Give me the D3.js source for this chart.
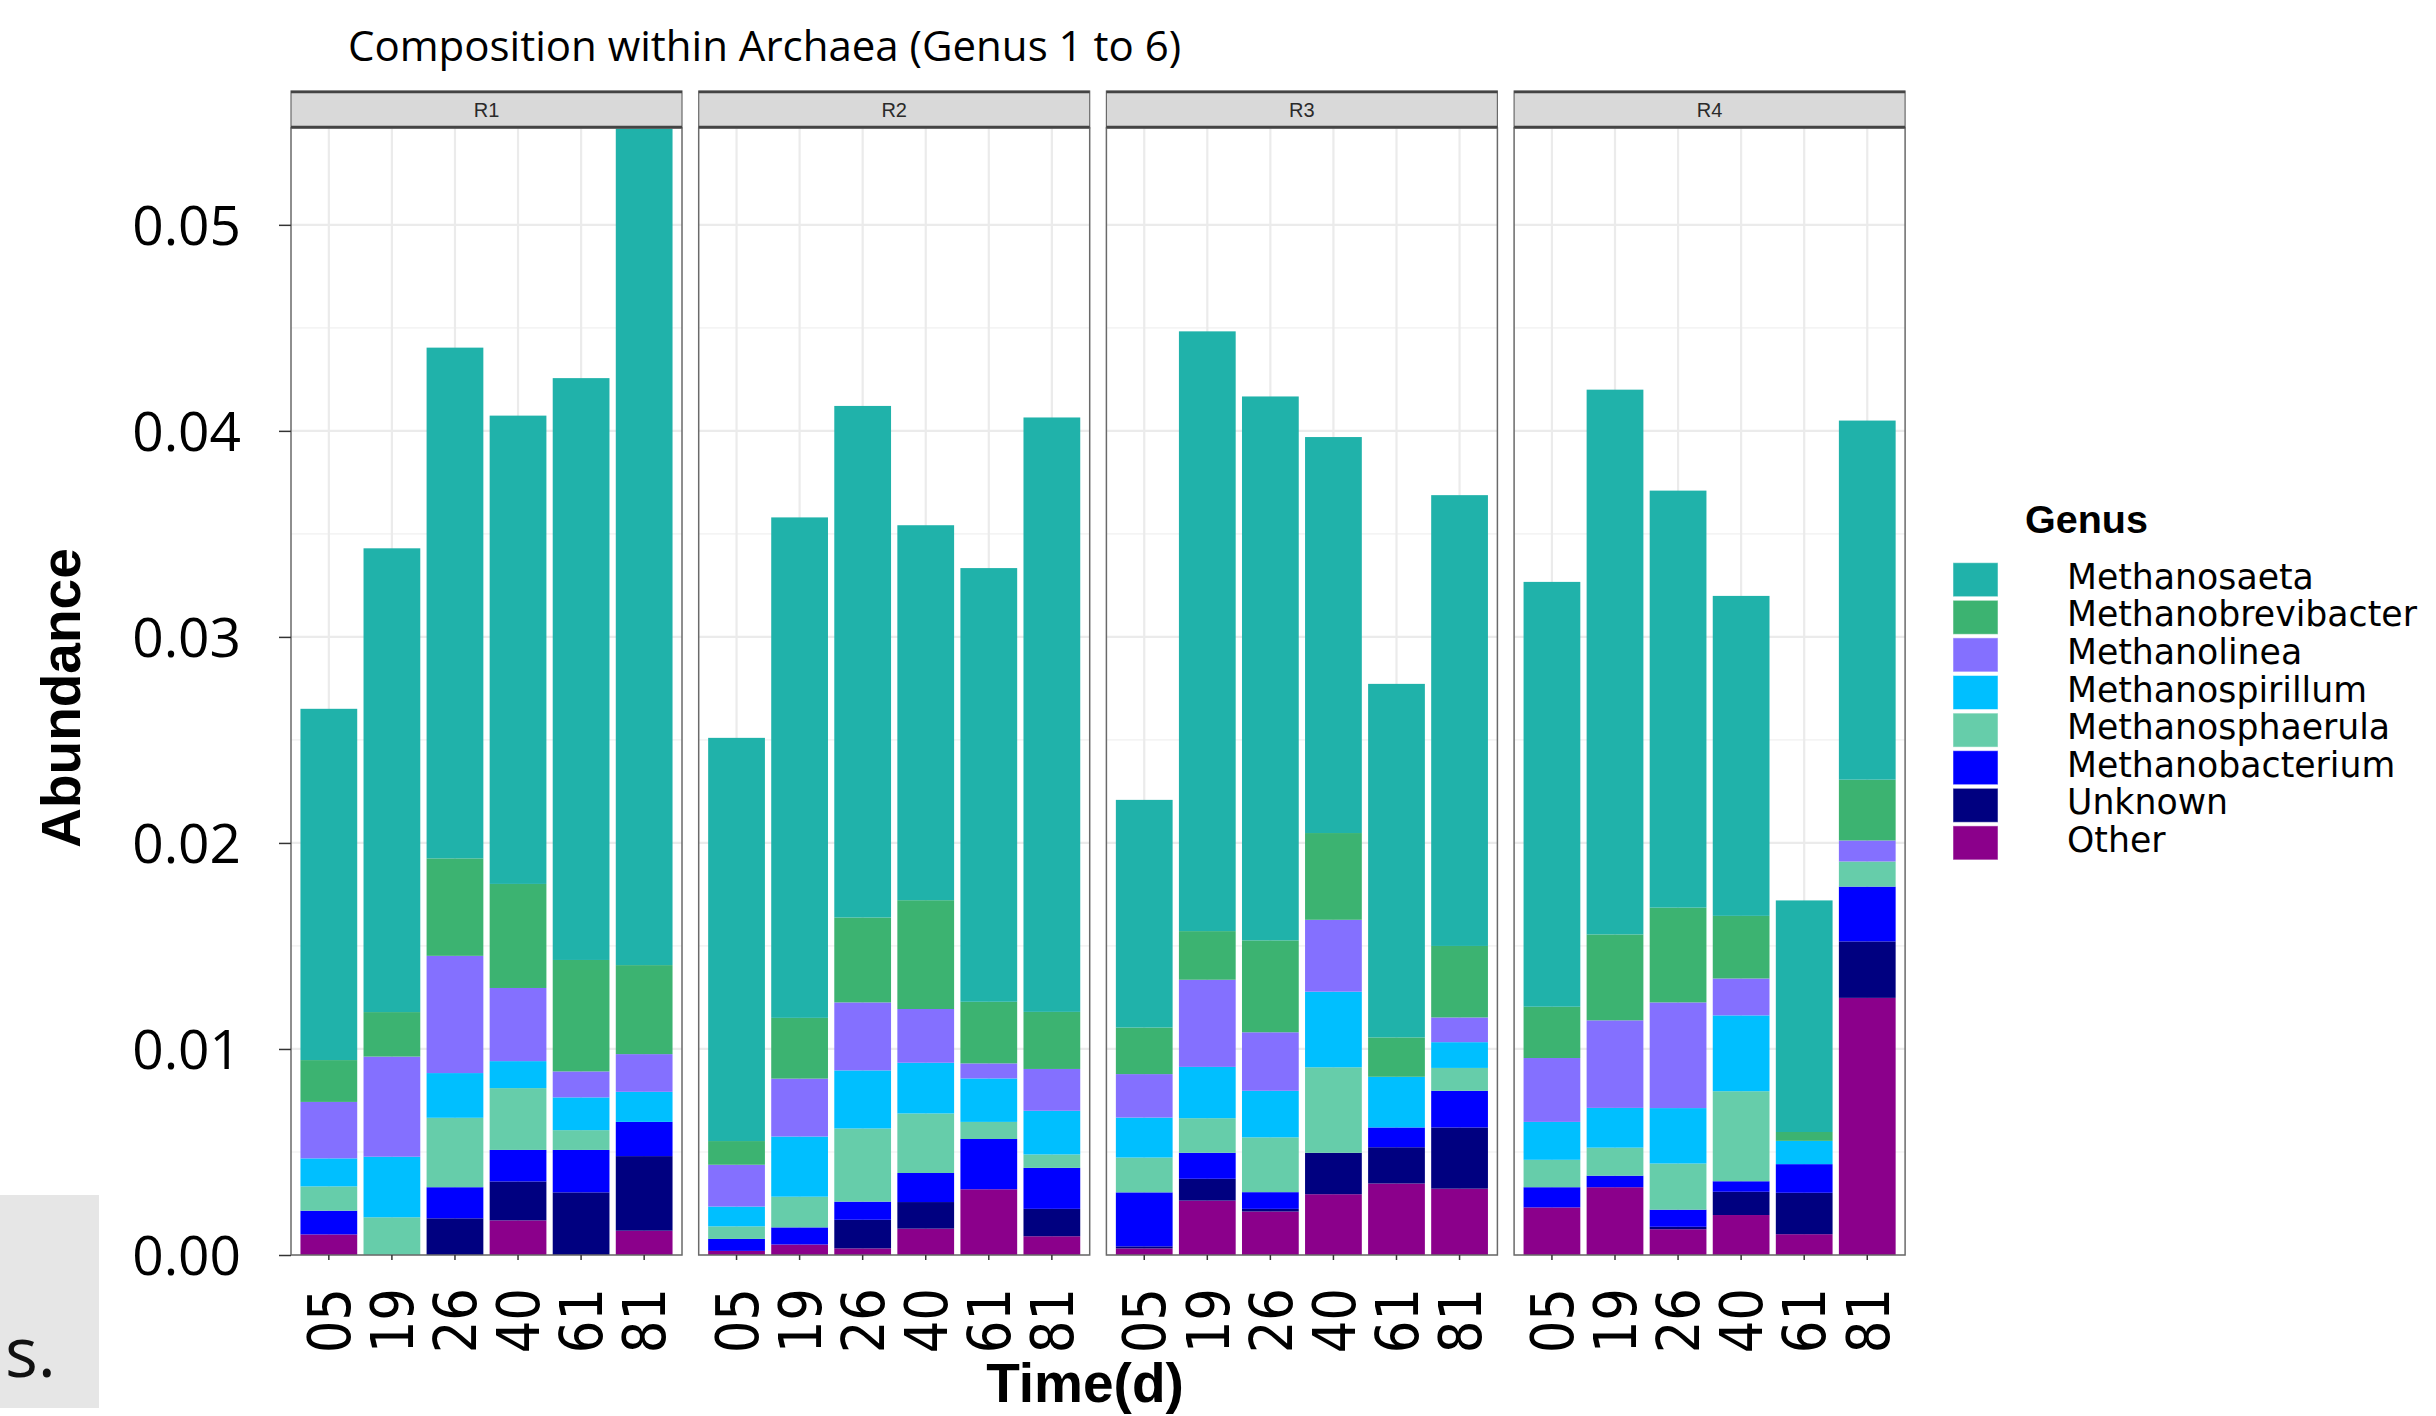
<!DOCTYPE html>
<html>
<head>
<meta charset="utf-8">
<script src="https://cdn.jsdelivr.net/npm/d3@7"></script>
<style>
  html, body { margin: 0; padding: 0; background: #ffffff; }
  svg { display: block; }
</style>
</head>
<body>
<div id="chart"></div>
<script>
// ---------------- DATA ----------------
const reactors = ["R1", "R2", "R3", "R4"];
const times = ["05", "19", "26", "40", "61", "81"];
const genera = ["Methanosaeta", "Methanobrevibacter", "Methanolinea", "Methanospirillum",
                "Methanosphaerula", "Methanobacterium", "Unknown", "Other"];
const genusColors = ["#20B2AA", "#3CB371", "#8470FF", "#00BFFF", "#66CDAA", "#0000FF", "#000080", "#8B008B"];
const yTicks = [0, 0.01, 0.02, 0.03, 0.04, 0.05];
const yTickLabels = ["0.00", "0.01", "0.02", "0.03", "0.04", "0.05"];
const yMinorTicks = [0.005, 0.015, 0.025, 0.035, 0.045];

// values in order R1(05..81), R2(05..81), R3(05..81), R4(05..81)
const methanosaeta       = [0.01705, 0.02251, 0.02479, 0.02273, 0.02824, 0.04065,
                            0.01957, 0.02429, 0.02483, 0.01820, 0.02105, 0.02885,
                            0.01105, 0.02911, 0.02640, 0.01922, 0.01716, 0.02188,
                            0.02062, 0.02644, 0.02024, 0.01553, 0.01124, 0.01743];
const methanobrevibacter = [0.00203, 0.00216, 0.00473, 0.00505, 0.00541, 0.00432,
                            0.00115, 0.00295, 0.00412, 0.00528, 0.00299, 0.00277,
                            0.00226, 0.00236, 0.00446, 0.00421, 0.00191, 0.00347,
                            0.00249, 0.00417, 0.00460, 0.00304, 0.00043, 0.00295];
const methanolinea       = [0.00274, 0.00486, 0.00569, 0.00355, 0.00126, 0.00183,
                            0.00203, 0.00281, 0.00330, 0.00261, 0.00073, 0.00203,
                            0.00211, 0.00423, 0.00284, 0.00349, 0.00000, 0.00120,
                            0.00310, 0.00425, 0.00513, 0.00179, 0.00000, 0.00102];
const methanospirillum   = [0.00136, 0.00294, 0.00217, 0.00131, 0.00159, 0.00146,
                            0.00096, 0.00292, 0.00282, 0.00246, 0.00211, 0.00212,
                            0.00194, 0.00249, 0.00226, 0.00367, 0.00246, 0.00125,
                            0.00184, 0.00193, 0.00269, 0.00368, 0.00113, 0.00000];
const methanosphaerula   = [0.00118, 0.00183, 0.00337, 0.00300, 0.00096, 0.00000,
                            0.00061, 0.00149, 0.00355, 0.00289, 0.00083, 0.00065,
                            0.00169, 0.00168, 0.00266, 0.00415, 0.00000, 0.00111,
                            0.00133, 0.00136, 0.00224, 0.00437, 0.00000, 0.00122];
const methanobacterium   = [0.00115, 0.00000, 0.00151, 0.00153, 0.00206, 0.00166,
                            0.00058, 0.00083, 0.00088, 0.00141, 0.00244, 0.00199,
                            0.00262, 0.00126, 0.00081, 0.00000, 0.00096, 0.00178,
                            0.00098, 0.00056, 0.00083, 0.00051, 0.00139, 0.00266];
const unknown            = [0.00000, 0.00000, 0.00178, 0.00189, 0.00304, 0.00362,
                            0.00000, 0.00000, 0.00139, 0.00129, 0.00000, 0.00133,
                            0.00010, 0.00106, 0.00013, 0.00201, 0.00176, 0.00297,
                            0.00000, 0.00000, 0.00012, 0.00113, 0.00201, 0.00274];
const other              = [0.00100, 0.00000, 0.00000, 0.00168, 0.00000, 0.00118,
                            0.00020, 0.00051, 0.00032, 0.00128, 0.00319, 0.00091,
                            0.00032, 0.00264, 0.00211, 0.00295, 0.00347, 0.00322,
                            0.00231, 0.00329, 0.00125, 0.00194, 0.00101, 0.01248];
const seriesValues = [methanosaeta, methanobrevibacter, methanolinea, methanospirillum,
                      methanosphaerula, methanobacterium, unknown, other];
const yMax = 0.0547;

// ---------------- TABLE ----------------
const rows = [];
reactors.forEach((r, ri) => {
  times.forEach((t, ti) => {
    const row = { reactor: r, time: t };
    genera.forEach((g, gi) => { row[g] = seriesValues[gi][ri * times.length + ti]; });
    rows.push(row);
  });
});

// ---------------- LAYOUT ----------------
const W = 2436, H = 1416;
const panelLeft = 291, panelW = 391, panelGap = 16.7;
const plotTop = 128, plotBottom = 1255;
const stripTop = 91;

const svg = d3.select("#chart").append("svg")
  .attr("width", W).attr("height", H)
  .attr("viewBox", `0 0 ${W} ${H}`);

svg.append("rect").attr("width", W).attr("height", H).attr("fill", "#ffffff");

// stray slide box in the lower left
svg.append("rect").attr("x", 0).attr("y", 1195).attr("width", 99).attr("height", 213).attr("fill", "#E6E6E6");
svg.append("text").attr("x", 56).attr("y", 1377).attr("text-anchor", "end")
  .attr("font-family", "'Open Sans', sans-serif").attr("font-size", 69).attr("fill", "#111")
  .text("s.");

const color = d3.scaleOrdinal().domain(genera).range(genusColors);
const y = d3.scaleLinear().domain([0, yMax]).range([plotBottom, plotTop]);
const x = d3.scaleBand().domain(times).range([0, panelW]).paddingInner(0.1).paddingOuter(0.15);

const stackKeys = genera.slice().reverse(); // Other at the bottom
const stack = d3.stack().keys(stackKeys);

const defs = svg.append("defs");

reactors.forEach((r, ri) => {
  const px = panelLeft + ri * (panelW + panelGap);
  const g = svg.append("g").attr("transform", `translate(${px},0)`);

  g.append("rect").attr("x", 0).attr("y", plotTop).attr("width", panelW)
    .attr("height", plotBottom - plotTop).attr("fill", "#ffffff");

  g.selectAll(".minor").data(yMinorTicks).enter().append("line")
    .attr("x1", 0).attr("x2", panelW)
    .attr("y1", d => y(d)).attr("y2", d => y(d))
    .attr("stroke", "#F0F0F0").attr("stroke-width", 1.2);
  g.selectAll(".major").data(yTicks).enter().append("line")
    .attr("x1", 0).attr("x2", panelW)
    .attr("y1", d => y(d)).attr("y2", d => y(d))
    .attr("stroke", "#EBEBEB").attr("stroke-width", 2.2);
  g.selectAll(".vgrid").data(times).enter().append("line")
    .attr("x1", d => x(d) + x.bandwidth() / 2).attr("x2", d => x(d) + x.bandwidth() / 2)
    .attr("y1", plotTop).attr("y2", plotBottom)
    .attr("stroke", "#EBEBEB").attr("stroke-width", 2.2);

  defs.append("clipPath").attr("id", "clip" + ri).append("rect")
    .attr("x", 0).attr("y", plotTop).attr("width", panelW).attr("height", plotBottom - plotTop);

  const pRows = rows.filter(d => d.reactor === r);
  const stacked = stack(pRows);
  const bars = g.append("g").attr("clip-path", `url(#clip${ri})`);
  stacked.forEach(layer => {
    bars.selectAll(null).data(layer).enter().append("rect")
      .attr("x", d => x(d.data.time))
      .attr("width", x.bandwidth())
      .attr("y", d => y(d[1]))
      .attr("height", d => Math.max(0, y(d[0]) - y(d[1])))
      .attr("fill", color(layer.key));
  });

  g.append("rect").attr("x", 0).attr("y", plotTop).attr("width", panelW)
    .attr("height", plotBottom - plotTop).attr("fill", "none")
    .attr("stroke", "#6a6a6a").attr("stroke-width", 1.5);

  g.append("rect").attr("x", 0).attr("y", stripTop).attr("width", panelW)
    .attr("height", plotTop - stripTop).attr("fill", "#D9D9D9")
    .attr("stroke", "#6a6a6a").attr("stroke-width", 1.2);
  g.append("line").attr("x1", 0).attr("x2", panelW).attr("y1", stripTop + 1).attr("y2", stripTop + 1)
    .attr("stroke", "#444").attr("stroke-width", 2.5);
  g.append("line").attr("x1", 0).attr("x2", panelW).attr("y1", plotTop - 1).attr("y2", plotTop - 1)
    .attr("stroke", "#444").attr("stroke-width", 2.5);
  g.append("text").attr("x", panelW / 2).attr("y", 117).attr("text-anchor", "middle")
    .attr("font-family", "'Liberation Sans', Arial, sans-serif").attr("font-size", 20)
    .attr("fill", "#2a2a2a").text(r);

  const xa = g.append("g").attr("transform", `translate(0,${plotBottom})`)
    .call(d3.axisBottom(x).tickSize(5).tickSizeOuter(0));
  xa.select(".domain").remove();
  xa.selectAll(".tick line").attr("stroke", "#333").attr("stroke-width", 1.5);
  xa.selectAll(".tick text")
    .attr("x", 0).attr("y", 0).attr("dy", "0.36em")
    .attr("transform", "translate(0,33) rotate(-90) scale(0.87,1)")
    .attr("text-anchor", "end")
    .attr("font-family", "'DejaVu Sans', sans-serif")
    .attr("font-size", 59).attr("fill", "#000");
});

const ya = svg.append("g").attr("transform", `translate(${panelLeft},0)`)
  .call(d3.axisLeft(y).tickValues(yTicks).tickFormat((d, i) => yTickLabels[i]).tickSize(12).tickPadding(38));
ya.select(".domain").remove();
ya.selectAll(".tick line").attr("stroke", "#333").attr("stroke-width", 1.5);
ya.selectAll(".tick text").attr("font-family", "'Open Sans', sans-serif")
  .attr("font-size", 55).attr("fill", "#000").attr("dy", "0.36em");

svg.append("text").attr("x", 348).attr("y", 61)
  .attr("font-family", "'Open Sans', sans-serif").attr("font-size", 42).attr("fill", "#000")
  .text("Composition within Archaea (Genus 1 to 6)");

svg.append("text").attr("transform", "translate(80,698) rotate(-90)").attr("text-anchor", "middle")
  .attr("font-family", "'Liberation Sans', Arial, sans-serif").attr("font-weight", "bold")
  .attr("font-size", 55).attr("fill", "#000").text("Abundance");

svg.append("text").attr("x", 1085).attr("y", 1402).attr("text-anchor", "middle")
  .attr("font-family", "'Liberation Sans', Arial, sans-serif").attr("font-weight", "bold")
  .attr("font-size", 55).attr("fill", "#000").text("Time(d)");

// legend
const lg = svg.append("g");
lg.append("text").attr("x", 2025).attr("y", 533)
  .attr("font-family", "'Liberation Sans', Arial, sans-serif").attr("font-weight", "bold")
  .attr("font-size", 39.5).attr("fill", "#000").text("Genus");
const keyTop = 562.7, keyStep = 37.6, keyW = 45, keyH = 34;
genera.forEach((gname, i) => {
  lg.append("rect").attr("x", 1953).attr("y", keyTop + i * keyStep)
    .attr("width", keyW).attr("height", keyH).attr("fill", color(gname))
    .attr("stroke", "#ffffff").attr("stroke-opacity", 0.5).attr("stroke-width", 1);
  lg.append("text").attr("x", 2067).attr("y", keyTop + i * keyStep + keyH / 2 + 9)
    .attr("font-family", "'DejaVu Sans', sans-serif").attr("font-size", 34.7)
    .attr("fill", "#000").text(gname);
});
</script>
</body>
</html>
